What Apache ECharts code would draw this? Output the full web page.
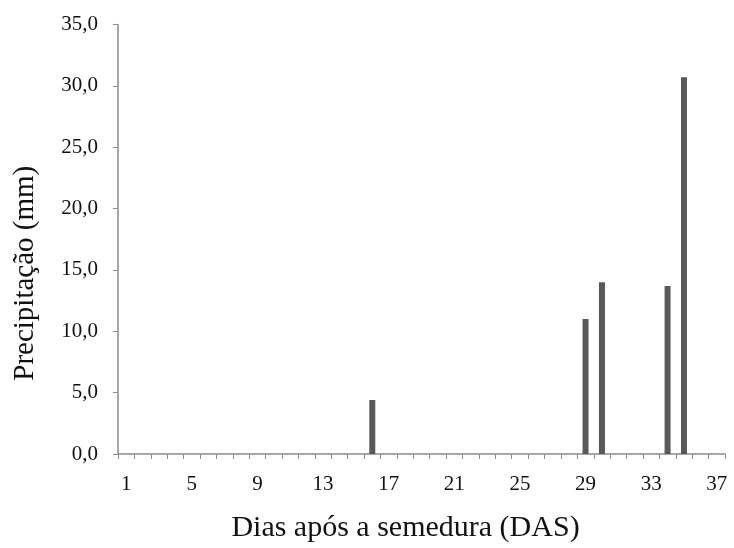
<!DOCTYPE html>
<html>
<head>
<meta charset="utf-8">
<script src="https://cdn.jsdelivr.net/npm/echarts@6/dist/echarts.min.js"></script>
<style>
  html, body { margin: 0; padding: 0; background: #fff; }
  #chart { width: 734px; height: 548px; }
</style>
</head>
<body>
<div id="chart"></div>
<script>
// Days after sowing (1..37) and daily rainfall in mm
const dias = [];
for (let d = 1; d <= 37; d++) dias.push(String(d));
const precipitacao = [
  0, 0, 0, 0, 0, 0, 0, 0, 0, 0,
  0, 0, 0, 0, 0, 4.4, 0, 0, 0, 0,
  0, 0, 0, 0, 0, 0, 0, 0, 11.0, 14.0,
  0, 0, 0, 13.7, 30.7, 0, 0
];
const yTicks = [0, 5, 10, 15, 20, 25, 30, 35];

const serif = 'Liberation Serif';
const chart = echarts.init(document.getElementById('chart'));
chart.setOption({
  animation: false,
  backgroundColor: '#ffffff',
  grid: { left: 118, right: 9, top: 24.5, bottom: 90.5, containLabel: false },
  xAxis: {
    type: 'category',
    data: dias,
    boundaryGap: true,
    name: 'Dias após a semedura (DAS)',
    nameLocation: 'middle',
    nameGap: 59,
    nameTextStyle: { fontFamily: serif, fontSize: 30, color: '#111', padding: [0, 32, 0, 0] },
    axisLine: { lineStyle: { color: '#8c8c8c', width: 1.5 } },
    axisTick: { show: true, interval: 0, length: 5, lineStyle: { color: '#8c8c8c' } },
    axisLabel: { interval: 3, margin: 20, fontFamily: serif, fontSize: 21, color: '#111' },
    splitLine: { show: false }
  },
  yAxis: {
    type: 'value',
    min: yTicks[0],
    max: yTicks[yTicks.length - 1],
    interval: 5,
    name: 'Precipitação (mm)',
    nameLocation: 'middle',
    nameGap: 78,
    nameTextStyle: { fontFamily: serif, fontSize: 29, color: '#111', padding: [0, 68, 0, 0] },
    axisLine: { show: true, lineStyle: { color: '#8c8c8c', width: 1.5 } },
    axisTick: { show: true, length: 5, lineStyle: { color: '#8c8c8c' } },
    axisLabel: {
      margin: 20,
      fontFamily: serif,
      fontSize: 21,
      color: '#111',
      padding: [4, 0, 0, 0],
      formatter: v => v.toFixed(1).replace('.', ',')
    },
    splitLine: { show: false }
  },
  series: [{
    type: 'bar',
    data: precipitacao,
    barWidth: 6,
    itemStyle: { color: '#595959' }
  }]
});
</script>
</body>
</html>
